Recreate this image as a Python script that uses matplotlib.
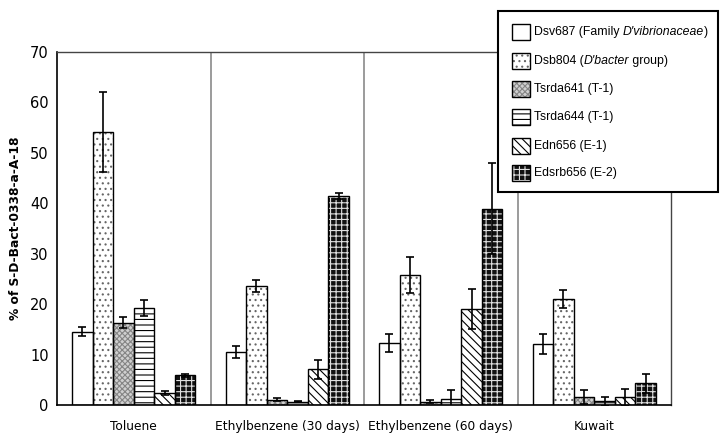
import matplotlib
matplotlib.use("Agg")
import matplotlib.pyplot as plt
from matplotlib.patches import Rectangle
import numpy as np

categories = ["Toluene", "Ethylbenzene (30 days)", "Ethylbenzene (60 days)", "Kuwait"]
series = ["Dsv687", "Dsb804", "Tsrda641", "Tsrda644", "Edn656", "Edsrb656"]
dsv687 = [14.5, 10.5, 12.3, 12.1]
dsv687_err = [0.9, 1.1, 1.8, 2.0]
dsb804 = [54.1, 23.6, 25.7, 21.0]
dsb804_err = [7.9, 1.2, 3.6, 1.7]
tsrda641 = [16.3, 1.0, 0.6, 1.5]
tsrda641_err = [1.1, 0.3, 0.3, 1.4]
tsrda644 = [19.3, 0.6, 1.1, 0.7]
tsrda644_err = [1.6, 0.1, 1.8, 0.8]
edn656 = [2.3, 7.1, 19.0, 1.5]
edn656_err = [0.4, 1.9, 3.9, 1.6]
edsrb656 = [5.9, 41.4, 38.9, 4.3]
edsrb656_err = [0.3, 0.6, 9.0, 1.9]
yticks = [0, 10, 20, 30, 40, 50, 60, 70]
ylabel = "% of S-D-Bact-0338-a-A-18"

# legend labels: list of (text, italic) pieces
legend_labels = [
    [("Dsv687 (Family ", False), ("D'vibrionaceae", True), (")", False)],
    [("Dsb804 (", False), ("D'bacter", True), (" group)", False)],
    [("Tsrda641 (T-1)", False)],
    [("Tsrda644 (T-1)", False)],
    [("Edn656 (E-1)", False)],
    [("Edsrb656 (E-2)", False)],
]

values = [dsv687, dsb804, tsrda641, tsrda644, edn656, edsrb656]
errors = [dsv687_err, dsb804_err, tsrda641_err, tsrda644_err, edn656_err, edsrb656_err]
# styles: (facecolor, hatch, hatchcolor)
styles = [
    ("white", None, "black"),
    ("white", "...", "#666666"),
    ("#d0d0d0", "xxxxxx", "#858585"),
    ("white", "---", "black"),
    ("white", "\\\\\\\\", "black"),
    ("#111111", "+++", "#e0e0e0"),
]

plt.rcParams["hatch.linewidth"] = 0.8
fig = plt.figure(figsize=(7.27, 4.41), dpi=100)
W, H = 727, 441
ax = fig.add_axes([57 / W, 1 - 405 / H, (671 - 57) / W, (405 - 51.7) / H])

x = np.arange(len(categories)) + 0.5
bw = 0.134
for i, (vals, errs, (fc, hatch, hc)) in enumerate(zip(values, errors, styles)):
    pos = x + (i - 2.5) * bw
    ax.bar(pos, vals, bw, color=fc, hatch=hatch, edgecolor=hc, linewidth=0, zorder=2)
    ax.bar(pos, vals, bw, fill=False, edgecolor="black", linewidth=1.0, zorder=3)
    ax.errorbar(pos, vals, yerr=errs, fmt="none", ecolor="black", elinewidth=1.2,
                capsize=3.2, capthick=1.2, zorder=4)

for s in [1, 2, 3]:
    ax.axvline(s, color="#8a8a8a", linewidth=1.2, zorder=1)

ax.set_xlim(0, 4)
ax.set_ylim(0, 70)
ax.set_yticks(yticks)
ax.set_xticks(x)
ax.set_xticklabels(categories, fontsize=8.8, family="DejaVu Sans")
ax.tick_params(axis="both", length=0)
ax.tick_params(axis="y", labelsize=10.5, pad=6)
ax.tick_params(axis="x", pad=11)
for sp in ["left", "bottom"]:
    ax.spines[sp].set_linewidth(1.2)
for sp in ["top", "right"]:
    ax.spines[sp].set_linewidth(1.0)
    ax.spines[sp].set_color("#444444")
ax.set_ylabel(ylabel, fontsize=8.8, fontweight="bold", labelpad=6)

# manual legend in figure pixel coords
def fx(px):
    return px / W

def fy(py):
    return 1 - py / H

box = Rectangle((fx(498), fy(192)), (718 - 498) / W, (192 - 11) / H,
                transform=fig.transFigure, facecolor="white", edgecolor="black",
                linewidth=1.5, zorder=10)
fig.add_artist(box)
renderer = fig.canvas.get_renderer()
ycent = [32, 61, 89, 117, 146, 173]
for (fc, hatch, hc), pieces, yc in zip(styles, legend_labels, ycent):
    r1 = Rectangle((fx(512), fy(yc + 8)), 18 / W, 16 / H, transform=fig.transFigure,
                   facecolor=fc, hatch=hatch, edgecolor=hc, linewidth=0, zorder=11)
    r2 = Rectangle((fx(512), fy(yc + 8)), 18 / W, 16 / H, transform=fig.transFigure,
                   fill=False, edgecolor="black", linewidth=1.0, zorder=12)
    fig.add_artist(r1)
    fig.add_artist(r2)
    xp = 534
    for txt, it in pieces:
        t = fig.text(fx(xp), fy(yc), txt, fontsize=8.8, family="Liberation Sans",
                     style="italic" if it else "normal", va="center", ha="left", zorder=13)
        bb = t.get_window_extent(renderer=renderer)
        xp += bb.width

fig.savefig("out.png", dpi=100)
